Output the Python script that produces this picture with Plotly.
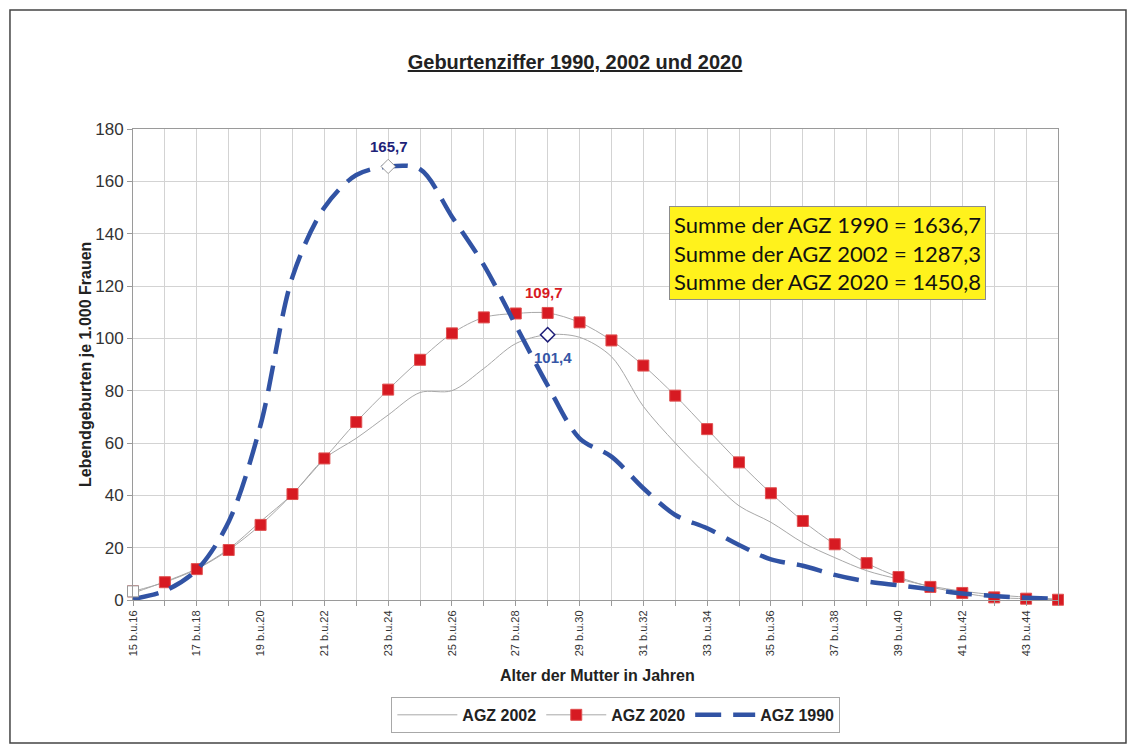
import plotly.graph_objects as go
import numpy as np

categories = ["15 b.u.16", "16 b.u.17", "17 b.u.18", "18 b.u.19", "19 b.u.20", "20 b.u.21",
              "21 b.u.22", "22 b.u.23", "23 b.u.24", "24 b.u.25", "25 b.u.26", "26 b.u.27",
              "27 b.u.28", "28 b.u.29", "29 b.u.30", "30 b.u.31", "31 b.u.32", "32 b.u.33",
              "33 b.u.34", "34 b.u.35", "35 b.u.36", "36 b.u.37", "37 b.u.38", "38 b.u.39",
              "39 b.u.40", "40 b.u.41", "41 b.u.42", "42 b.u.43", "43 b.u.44", "44 b.u.45"]

agz_2002 = [2.6, 7.0, 12.0, 19.5, 30.0, 40.5, 54.0, 61.8, 70.7, 79.3, 80.0, 88.5, 98.0, 101.4,
            100.4, 93.0, 74.0, 60.0, 47.5, 36.0, 29.7, 21.9, 16.2, 11.2, 8.0, 5.3, 3.4, 2.0, 1.1, 0.3]
agz_2020 = [3.3, 6.8, 11.8, 19.1, 28.7, 40.5, 54.1, 68.0, 80.4, 91.8, 101.9, 108.0, 109.5, 109.7,
            106.1, 99.2, 89.6, 78.1, 65.3, 52.6, 40.8, 30.2, 21.3, 14.1, 8.8, 5.0, 2.7, 1.0, 0.5, 0.1]
agz_1990 = [0.4, 3.5, 11.5, 29.9, 66.9, 123.5, 150.0, 162.4, 165.7, 164.6, 146.5, 128.0, 105.0, 82.0,
            61.8, 54.8, 42.7, 32.5, 27.4, 21.0, 15.5, 13.1, 9.6, 7.1, 5.6, 4.1, 2.5, 1.5, 0.9, 0.4]

summen = ["Summe der AGZ 1990 = 1636,7", "Summe der AGZ 2002 = 1287,3", "Summe der AGZ 2020 = 1450,8"]

FONT = "Liberation Sans, Arial, sans-serif"
RED = "#D71A22"
BLUE = "#3153A4"
GRAY_LINE = "#A8A8A8"

W, H = 1120, 737  # page has 8px body margin

xs = list(range(len(categories)))
i90 = int(np.argmax(agz_1990))
i02 = int(np.argmax(agz_2002))
i20 = int(np.argmax(agz_2020))

fig = go.Figure()

fig.add_trace(go.Scatter(
    x=xs, y=agz_2002, name="AGZ 2002", mode="lines",
    line=dict(color=GRAY_LINE, width=1, shape="spline", smoothing=0.9),
))
fig.add_trace(go.Scatter(
    x=xs, y=agz_2020, name="AGZ 2020", mode="lines+markers", cliponaxis=False,
    line=dict(color=GRAY_LINE, width=1, shape="spline", smoothing=0.9),
    marker=dict(symbol="square", size=11, color=RED, line=dict(color="#E05050", width=1)),
))
fig.add_trace(go.Scatter(
    x=xs, y=agz_1990, name="AGZ 1990", mode="lines",
    line=dict(color=BLUE, width=4.5, shape="spline", smoothing=0.9, dash="26px,12px"),
))
# individually formatted points
fig.add_trace(go.Scatter(
    x=[xs[0]], y=[agz_2020[0]], mode="markers", showlegend=False, cliponaxis=False,
    marker=dict(symbol="square", size=11, color="white", line=dict(color="#9A9A9A", width=1)),
))
fig.add_trace(go.Scatter(
    x=[xs[i90]], y=[agz_1990[i90]], mode="markers", showlegend=False,
    marker=dict(symbol="diamond", size=11, color="white", line=dict(color="#9A9A9A", width=1)),
))
fig.add_trace(go.Scatter(
    x=[xs[i02]], y=[agz_2002[i02]], mode="markers", showlegend=False,
    marker=dict(symbol="diamond", size=11, color="white", line=dict(color="#1E1E78", width=1.5)),
))

annotations = [
    dict(x=xs[i90], y=agz_1990[i90], text="<b>165,7</b>", showarrow=False, yshift=20, xshift=1,
         font=dict(family=FONT, size=15, color="#1E2278")),
    dict(x=xs[i20], y=agz_2020[i20], text="<b>109,7</b>", showarrow=False, yshift=20, xshift=-4,
         font=dict(family=FONT, size=15, color=RED)),
    dict(x=xs[i02], y=agz_2002[i02], text="<b>101,4</b>", showarrow=False, yshift=-23, xshift=5,
         font=dict(family=FONT, size=15, color="#3556A6")),
    dict(x=0.751, y=0.737, xref="paper", yref="paper", xanchor="center", yanchor="middle",
         text="<br>".join(summen), showarrow=False,
         align="left", bgcolor="#FFF21C", bordercolor="#8C8C8C", borderwidth=1, borderpad=4,
         font=dict(family="Lato, sans-serif", size=22, color="#111111")),
    dict(x=0.502, y=-0.1826, xref="paper", yref="paper", text="<b>Alter der Mutter in Jahren</b>",
         showarrow=False, font=dict(family=FONT, size=16, color="#222222")),
    dict(x=-0.0627, y=0.5, xref="paper", yref="paper", text="<b>Lebendgeburten je 1.000 Frauen</b>",
         showarrow=False, textangle=-90, font=dict(family=FONT, size=16, color="#222222")),
]

fig.update_layout(
    width=W, height=H, autosize=False,
    margin=dict(l=125, r=70, t=121, b=145),
    paper_bgcolor="white", plot_bgcolor="white",
    title=dict(text="<b><u>Geburtenziffer 1990, 2002 und 2020</u></b>", x=(575 - 8) / W, xref="container",
               xanchor="center", y=1 - 54 / H, yanchor="middle",
               font=dict(family=FONT, size=20, color="#222222")),
    annotations=annotations,
    showlegend=True,
    legend=dict(orientation="h", x=0.522, xanchor="center", y=-0.244, yanchor="middle",
                bordercolor="#A8A8A8", borderwidth=1, bgcolor="white",
                font=dict(family=FONT, size=16, color="#222222", weight="bold"),
                itemwidth=60, traceorder="normal"),
    shapes=[dict(type="rect", xref="paper", yref="paper", x0=-0.133, x1=1.0735, y0=-0.3036, y1=1.2527,
                 line=dict(color="#444444", width=1.5), fillcolor="rgba(0,0,0,0)", layer="below")],
)

fig.update_xaxes(
    range=[0, len(xs) - 1], tickmode="array", tickvals=xs[::2], ticktext=categories[::2],
    tickangle=-90, tickfont=dict(family=FONT, size=11, color="#333333"),
    showgrid=True, gridcolor="#D3D3D3", gridwidth=1,
    showline=True, linecolor="#9A9A9A", linewidth=1, mirror=True,
    ticks="outside", ticklen=5, tickcolor="#9A9A9A",
    minor=dict(tickvals=xs, showgrid=True, gridcolor="#D3D3D3", ticks="outside", ticklen=5,
               tickcolor="#9A9A9A"),
    zeroline=False,
)
fig.update_yaxes(
    range=[0, 180], dtick=20, tickfont=dict(family=FONT, size=17, color="#333333"),
    showgrid=True, gridcolor="#D3D3D3", gridwidth=1,
    showline=True, linecolor="#9A9A9A", linewidth=1, mirror=True,
    ticks="outside", ticklen=5, tickcolor="#9A9A9A", zeroline=False,
)

fig.write_html("out.html")
